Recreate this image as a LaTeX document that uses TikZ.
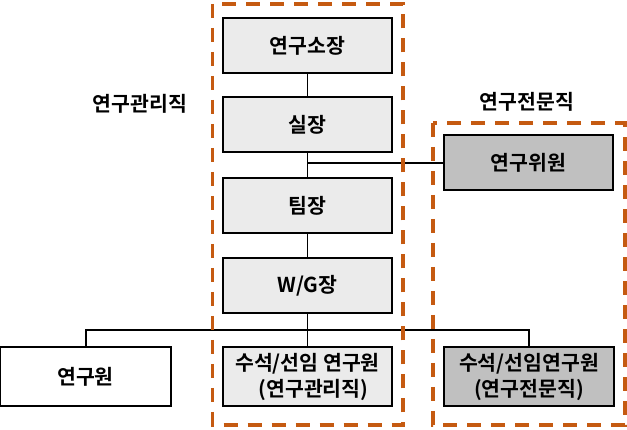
\documentclass[tikz,border=0pt]{standalone}
\usepackage{fontspec}
\setmainfont{Noto Sans CJK KR}[BoldFont={Noto Sans CJK KR Bold}]
\definecolor{lightbox}{HTML}{EBEBEB}
\definecolor{darkbox}{HTML}{C0C0C0}
\definecolor{dashcol}{HTML}{C55A11}
\begin{document}
\begin{tikzpicture}[x=1pt,y=-1pt,
  box/.style={draw=black,line width=2pt,minimum width=169pt,minimum height=55pt,inner sep=0pt,font=\fontsize{20.5}{26.5}\selectfont\bfseries,align=center},
  lbox/.style={box,fill=lightbox},
  dbox/.style={box,fill=darkbox},
  wbox/.style={box,fill=white},
  conn/.style={draw=black,line width=1.3pt},
  group/.style={draw=dashcol,line width=3.5pt,dash pattern=on 14pt off 10pt},
  glabel/.style={font=\fontsize{20.5}{26}\selectfont\bfseries}]
\useasboundingbox (0,0) rectangle (627,430);
\node[lbox] (a) at (307.5,45.5) {연구소장};
\node[lbox] (b) at (307.5,124.5) {실장};
\node[lbox] (c) at (307.5,205.5) {팀장};
\node[lbox] (d) at (307.5,286) {W/G장};
\node[lbox,minimum height=59pt] (e) at (307.5,377) {수석/선임 연구원\\ \hspace*{12pt}(연구관리직)};
\node[dbox] (f) at (528.5,162.5) {연구위원};
\node[dbox,minimum width=170pt,minimum height=59pt] (g) at (529,377) {수석/선임연구원\\(연구전문직)};
\node[wbox,minimum width=171pt,minimum height=59pt] (h) at (85.5,377) {연구원};
\coordinate (j1) at (307.5,163);
\coordinate (j2) at (307.5,330);
\draw[conn] (a.south) -- (b.north);
\draw[conn] (b.south) -- (c.north);
\draw[conn] (c.south) -- (d.north);
\draw[conn] (d.south) -- (e.north);
\draw[conn] (j1) -- (j1 -| f.west);
\draw[conn] (h.north -| 86,0) |- (j2) -| (g.north);
\draw[group] (212.5,4) rectangle (403,425);
\draw[group] (433,123) rectangle (625,425);
\node[glabel] (l1) at (140,104) {연구관리직};
\node[glabel] (l2) at (527,102) {연구전문직};
\end{tikzpicture}
\end{document}
